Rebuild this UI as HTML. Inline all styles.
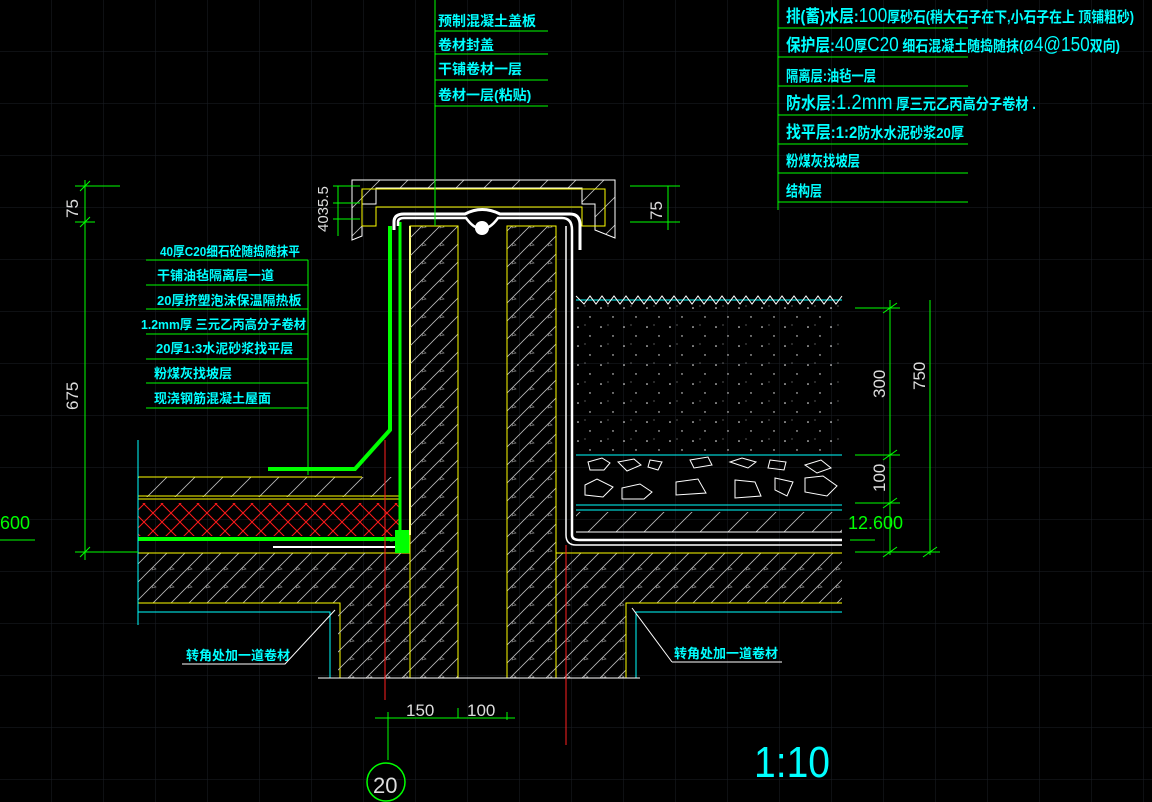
<!DOCTYPE html>
<html><head><meta charset="utf-8"><style>
html,body{margin:0;padding:0;background:#000;}
svg{display:block}
text{font-family:"Liberation Sans","Noto Sans CJK SC",sans-serif;}
.c{fill:#00ffff;font-weight:bold}
.g{fill:#00ff00}
</style></head><body>
<svg width="1152" height="802" viewBox="0 0 1152 802" xmlns="http://www.w3.org/2000/svg">
<defs>
<pattern id="grid" width="52" height="52" patternUnits="userSpaceOnUse"><path d="M52 0V52M0 52H52" stroke="#1b1f26" stroke-width="1" fill="none"/></pattern>
<pattern id="hatch" width="28" height="28" patternUnits="userSpaceOnUse"><path d="M0 28L28 0M-7 7L7-7M21 35L35 21" stroke="#bbb" stroke-width="0.8"/></pattern>
<pattern id="hatchw" width="18" height="18" patternUnits="userSpaceOnUse"><path d="M0 18L18 0M-4.5 4.5L4.5-4.5M13.5 22.5L22.5 13.5" stroke="#bbb" stroke-width="0.8"/><path d="M9 9l3 2l-4 1z" stroke="#999" stroke-width="0.6" fill="none"/></pattern>
<pattern id="cross" width="18" height="18" patternUnits="userSpaceOnUse"><path d="M0 0L18 18M18 0L0 18" stroke="#ff1a1a" stroke-width="1"/></pattern>
<pattern id="dots" width="23" height="19" patternUnits="userSpaceOnUse"><circle cx="3" cy="4" r="0.8" fill="#fff"/><circle cx="15" cy="13" r="0.7" fill="#fff"/><circle cx="10" cy="2" r="0.5" fill="#ddd"/></pattern>
</defs>
<rect width="1152" height="802" fill="#000"/>
<rect width="1152" height="802" fill="url(#grid)"/>

<!-- left floor -->
<rect x="138" y="477" width="262" height="20" fill="url(#hatch)"/>
<path d="M138 477H362M138 496H400M138 499H400" stroke="#ffff00" stroke-width="1" fill="none"/>
<rect x="138" y="503" width="262" height="33" fill="url(#cross)"/>
<path d="M138 539H395" stroke="#00ff00" stroke-width="4"/>
<path d="M273 547H395" stroke="#fff" stroke-width="2"/>
<rect x="138" y="553" width="200" height="50" fill="url(#hatchw)"/>
<path d="M138 553H410M138 603H340V678" stroke="#ffff00" stroke-width="1" fill="none"/>
<path d="M138 612H330V678" stroke="#00ffff" stroke-width="1" fill="none"/>
<path d="M138 440V625" stroke="#00ffff" stroke-width="1"/>
<path d="M268 469H355L390 430V226" stroke="#00ff00" stroke-width="4" fill="none"/>
<path d="M400 222V530Q400 540 390 540" stroke="#00ff00" stroke-width="3" fill="none"/>
<rect x="395" y="530" width="15" height="23" fill="#00ff00"/>
<path d="M410 226V535" stroke="#fff" stroke-width="2"/>

<!-- walls -->
<rect x="338" y="553" width="72" height="125" fill="url(#hatchw)"/>
<rect x="410" y="226" width="48" height="452" fill="url(#hatchw)" stroke="#ffff00" stroke-width="1"/>
<rect x="507" y="226" width="49" height="452" fill="url(#hatchw)" stroke="#ffff00" stroke-width="1"/>
<rect x="556" y="553" width="70" height="125" fill="url(#hatchw)"/>
<rect x="626" y="553" width="216" height="50" fill="url(#hatchw)"/>
<path d="M556 553H842M626 678V603H842" stroke="#ffff00" stroke-width="1" fill="none"/>
<path d="M636 678V612H842" stroke="#00ffff" stroke-width="1" fill="none"/>
<path d="M318 678H640" stroke="#fff" stroke-width="1"/>

<!-- cap -->
<path d="M352 180H615V238L595 230V204H582V188H376V204H362V236L352 240Z" fill="url(#hatch)" stroke="#fff" stroke-width="1"/>
<path d="M362 189H605V226H582V207H376V226H362Z" fill="none" stroke="#ffff00" stroke-width="1"/>
<path d="M394 230V222Q394 214 404 214H465Q482 205 500 214H570Q580 214 580 225V250" fill="none" stroke="#fff" stroke-width="3"/>
<path d="M398 226V222Q398 218 404 218H466Q482 240 498 218H562Q572 218 572 230V535Q572 540 580 540H842" fill="none" stroke="#fff" stroke-width="2.5"/>
<path d="M566 226V535Q566 545 576 545H842" fill="none" stroke="#fff" stroke-width="1.5"/>
<circle cx="482" cy="228" r="7" fill="#fff"/>

<!-- right fill -->
<path d="M576 300H842M576 455H842M576 505H842M576 510H842" stroke="#00ffff" stroke-width="1"/>
<path d="M576 296l8 8l6-8l6 8l6-8l6 8l6-8l6 8l6-8l6 8l6-8l6 8l6-8l6 8l6-8l6 8l6-8l6 8l6-8l6 8l6-8l6 8l6-8l6 8l6-8l6 8l6-8l6 8l6-8l6 8l6-8l6 8l6-8l6 8l6-8l6 8l6-8l6 8l6-8l6 8l6-8l6 8l6-8l6 8l6-8" stroke="#fff" stroke-width="1" fill="none"/>
<rect x="576" y="305" width="266" height="148" fill="url(#dots)"/>
<g stroke="#fff" fill="none" stroke-width="1">
<path d="M588 462l14-4l8 5l-6 7l-14 0z"/><path d="M618 462l16-3l7 6l-14 6z"/><path d="M650 460l12 2l-4 8l-10-3z"/><path d="M690 460l18-3l4 8l-18 3z"/><path d="M730 462l12-4l14 4l-8 6z"/><path d="M770 460l16 2l-2 8l-16-2z"/><path d="M805 465l16-5l10 8l-14 5z"/>
<path d="M585 485l12-6l16 8l-10 10l-18-2z"/><path d="M622 488l18-4l12 8l-8 7l-22 0z"/><path d="M676 482l22-3l8 14l-30 2z"/><path d="M735 480l20 2l6 14l-26 2z"/><path d="M775 478l18 4l-6 14l-12-6z"/><path d="M805 478l18-2l14 10l-10 10l-22-4z"/>
</g>
<rect x="576" y="512" width="266" height="20" fill="url(#hatch)"/>
<path d="M576 532H842" stroke="#fff" stroke-width="1"/>
<path d="M385 440V700M566 545V745" stroke="#ff2020" stroke-width="1"/>

<!-- dims -->
<g stroke="#00ff00" stroke-width="1" fill="none">
<path d="M85 180V560M75 186H120M75 222H95M75 552H138M80 191l10-10M80 227l10-10M80 557l10-10"/>
<path d="M338 186V236M333 186H360M333 203H360M333 219H360"/>
<path d="M668 186V230M630 186H680M630 222H680"/>
<path d="M890 300V555M855 308H900M855 455H900M855 503H900M930 300V555M855 552H940"/>
<path d="M883 313l14-10M883 460l14-10M883 508l14-10M883 557l14-10M923 557l14-10"/>
<path d="M0 540H35M850 540H875M388 712V760M458 708V718M507 712V720M375 718H515"/>
<path d="M435 0V226M778 0V210"/>
</g>
<text font-size="17" transform="translate(78 218) rotate(-90)" style="fill:#ddd">75</text>
<text font-size="17" transform="translate(78 410) rotate(-90)" style="fill:#ddd">675</text>
<text font-size="15" transform="translate(328 232) rotate(-90)" style="fill:#ddd">4035.5</text>
<text font-size="17" transform="translate(662 220) rotate(-90)" style="fill:#ddd">75</text>
<text font-size="17" transform="translate(885 398) rotate(-90)" style="fill:#ddd">300</text>
<text font-size="17" transform="translate(885 492) rotate(-90)" style="fill:#ddd">100</text>
<text font-size="17" transform="translate(925 390) rotate(-90)" style="fill:#ddd">750</text>
<text x="0" y="529" font-size="18" class="g">600</text>
<text x="848" y="529" font-size="18" class="g">12.600</text>
<text x="406" y="716" font-size="17" style="fill:#ddd">150</text>
<text x="467" y="716" font-size="17" style="fill:#ddd">100</text>
<circle cx="386" cy="782" r="19" fill="none" stroke="#00ff00" stroke-width="1.5"/>
<text x="373" y="793" font-size="22" style="fill:#ddd">20</text>
<text x="754" y="777" font-size="44" style="fill:#00ffff" textLength="76" lengthAdjust="spacingAndGlyphs">1:10</text>

<!-- top center labels -->
<g stroke="#00ff00" stroke-width="1"><path d="M435 31H548M435 54H548M435 80H548M435 106H548"/></g>
<g class="c" font-size="14">
<text x="438" y="26">预制混凝土盖板</text><text x="438" y="50">卷材封盖</text><text x="438" y="74">干铺卷材一层</text><text x="438" y="100">卷材一层(粘贴)</text>
</g>

<!-- right labels -->
<g stroke="#00ff00" stroke-width="1"><path d="M778 28H968M778 57H968M778 86H968M778 115H968M778 144H968M778 173H968M778 202H968"/></g>
<g class="c" font-size="15">
<text x="786" y="22" textLength="348" lengthAdjust="spacingAndGlyphs"><tspan font-size="17">排(蓄)水层:</tspan><tspan font-size="20" font-weight="normal">100</tspan>厚砂石(稍大石子在下,小石子在上 顶铺粗砂)</text>
<text x="786" y="51" textLength="334" lengthAdjust="spacingAndGlyphs"><tspan font-size="17">保护层:</tspan><tspan font-size="20" font-weight="normal">40</tspan>厚<tspan font-size="20" font-weight="normal">C20</tspan> 细石混凝土随捣随抹(<tspan font-size="20" font-weight="normal">ø4@150</tspan>双向)</text>
<text x="786" y="81" textLength="90" lengthAdjust="spacingAndGlyphs">隔离层:油毡一层</text>
<text x="786" y="109" textLength="250" lengthAdjust="spacingAndGlyphs"><tspan font-size="17">防水层:</tspan><tspan font-size="21" font-weight="normal">1.2mm</tspan> 厚三元乙丙高分子卷材 .</text>
<text x="786" y="138" textLength="178" lengthAdjust="spacingAndGlyphs"><tspan font-size="17">找平层:1:2</tspan>防水水泥砂浆20厚</text>
<text x="786" y="166" textLength="74" lengthAdjust="spacingAndGlyphs">粉煤灰找坡层</text>
<text x="786" y="196" textLength="36" lengthAdjust="spacingAndGlyphs">结构层</text>
</g>

<!-- left labels -->
<g stroke="#00ff00" stroke-width="1"><path d="M146 260H308M146 285H308M146 309H308M146 334H308M146 359H308M146 383H308M146 408H308M308 260V475"/></g>
<g class="c" font-size="13">
<text x="160" y="256" textLength="140" lengthAdjust="spacingAndGlyphs">40厚C20细石砼随捣随抹平</text>
<text x="157" y="280">干铺油毡隔离层一道</text>
<text x="157" y="305">20厚挤塑泡沫保温隔热板</text>
<text x="141" y="329" textLength="165" lengthAdjust="spacingAndGlyphs">1.2mm厚 三元乙丙高分子卷材</text>
<text x="156" y="353">20厚1:3水泥砂浆找平层</text>
<text x="154" y="378">粉煤灰找坡层</text>
<text x="154" y="403">现浇钢筋混凝土屋面</text>
<text x="186" y="660">转角处加一道卷材</text>
<text x="674" y="658">转角处加一道卷材</text>
</g>
<g stroke="#fff" stroke-width="1" fill="none"><path d="M182 664H285L335 610M672 662H782M672 662L632 608"/></g>
</svg>
</body></html>
